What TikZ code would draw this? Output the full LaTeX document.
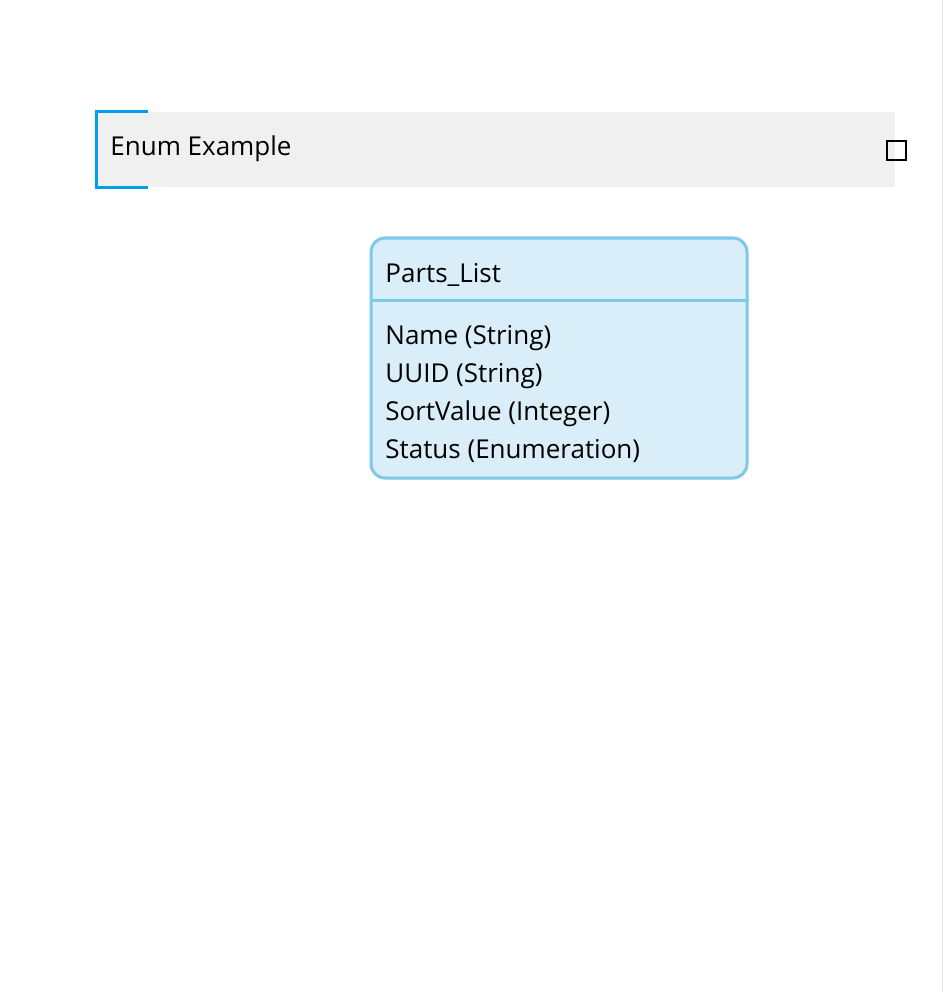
\documentclass[tikz,border=0pt]{standalone}
\usepackage{fontspec}
\setmainfont{Open Sans}
\usetikzlibrary{positioning, calc}
\definecolor{bandgray}{RGB}{240,240,240}
\definecolor{bracketblue}{RGB}{0,160,232}
\definecolor{entityline}{RGB}{125,201,234}
\definecolor{entityfill}{RGB}{217,238,248}

\begin{document}
\begin{tikzpicture}[x=1pt, y=-1pt, thick]
        \tikzset{
            band/.style={fill=bandgray, draw=none},
            bracket/.style={draw=bracketblue, line width=3pt},
            entity/.style={draw=entityline, fill=entityfill, line width=3pt, rounded corners=14pt, minimum width=376pt, minimum height=240pt, inner sep=0pt},
            label/.style={inner sep=0pt, anchor=base west, font=\fontsize{26}{38}\selectfont},
            attrs/.style={label, align=left, anchor=north west}
        }
        \useasboundingbox (0,0) rectangle (944,992);

        % --- TITLE BAND ---
        \fill[band] (96,112) rectangle (895,187);
        \draw[bracket] (148,112) -- (96,112) -- (96,188) -- (148,188);
        \node[label] (title) at (110,156) {Enum Example};
        \node[draw, line width=2pt, minimum size=19pt, inner sep=0pt] (toggle) at (896,151) {};

        % --- ENTITY ---
        \node[entity] (parts) at (559,358) {};
        \node[label] (partsname) at (385,282) {Parts\_List};
        \draw[draw=entityline, line width=3pt] (parts.west |- 0,300) -- (parts.east |- 0,300);
        \node[attrs] (fields) at (385,325.5) {Name (String)\\UUID (String)\\SortValue (Integer)\\Status (Enumeration)};

        % page edge
        \draw[black!10, line width=1pt] (942,0) -- (942,992);
    \end{tikzpicture}
\end{document}
